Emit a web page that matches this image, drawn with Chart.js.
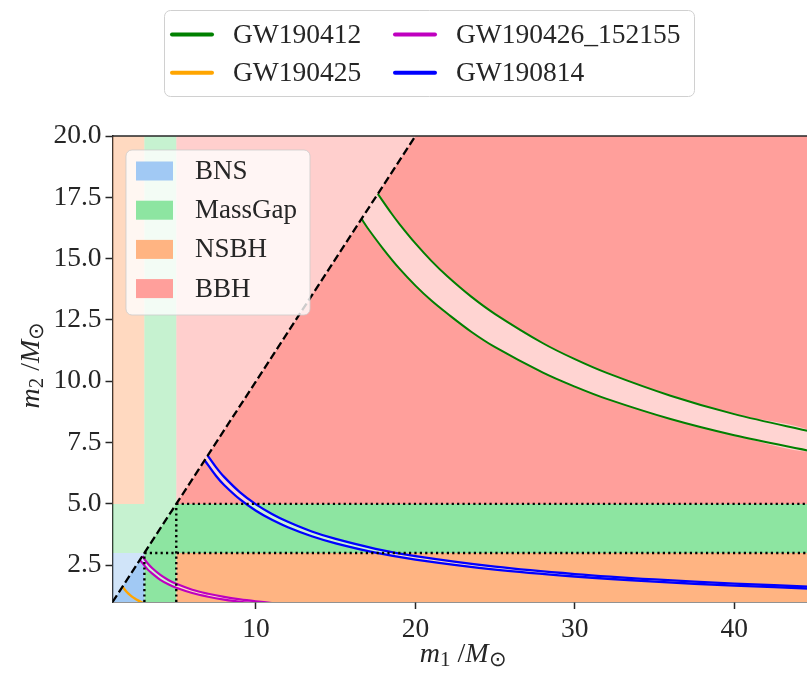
<!DOCTYPE html>
<html>
<head>
<meta charset="utf-8">
<script src="https://cdn.jsdelivr.net/npm/chart.js@4.4.0/dist/chart.umd.min.js"></script>
<style>
html, body { margin: 0; padding: 0; background: #fff; overflow: hidden; }
#wrap { width: 840px; height: 674px; }
</style>
</head>
<body>
<div id="wrap"><canvas id="massChart" width="840" height="674"></canvas></div>
<script>
// axis limits and class boundaries (solar masses)
const xRange = [1, 45];
const yRange = [1, 20];
const massEdges = [3, 5]; // NS maximum, mass-gap maximum
const xTicks = [10, 20, 30, 40];
const yTicks = [2.5, 5, 7.5, 10, 12.5, 15, 17.5, 20];

const categories = ['BNS', 'MassGap', 'NSBH', 'BBH'];
const events = ['GW190412', 'GW190425', 'GW190426_152155', 'GW190814'];

// [m1, m2] read along the edges of each event band
const gw190412Upper = [[17.64, 17.64], [18.5, 16.84], [19, 16.41], [20, 15.62], [21, 14.91], [22, 14.28],
  [23.5, 13.45], [25, 12.74], [28, 11.55], [30, 10.9], [32, 10.34], [36, 9.41], [40, 8.66], [45, 7.92]];
const gw190412Lower = [[16.62, 16.62], [17, 16.25], [18, 15.38], [19, 14.59], [20, 13.9], [21, 13.29],
  [22, 12.76], [23.5, 12.02], [25, 11.39], [28, 10.35], [30, 9.78], [32, 9.28], [36, 8.46], [40, 7.8], [45, 7.13]];
const gw190425Line = [[1.63, 1.63], [1.8, 1.48], [2, 1.34], [2.2, 1.23], [2.4, 1.14], [2.6, 1.064], [2.8, 1.0], [3, 0.945]];
const gw190426Upper = [[2.87, 2.87], [3.2, 2.58], [3.5, 2.375], [4, 2.105], [4.5, 1.9], [5, 1.74], [6, 1.5],
  [7, 1.335], [8, 1.206], [9, 1.107], [10, 1.027], [11, 0.957]];
const gw190426Lower = [[2.72, 2.72], [3.2, 2.33], [3.5, 2.157], [4, 1.903], [4.5, 1.722], [5, 1.58], [6, 1.365],
  [7, 1.215], [8, 1.099], [9, 1.01], [10, 0.937]];
const gw190814Upper = [[6.97, 6.97], [7.5, 6.49], [8, 6.1], [9, 5.47], [10, 4.98], [11, 4.59], [12, 4.27],
  [13.5, 3.875], [15, 3.57], [17.5, 3.17], [20, 2.87], [25, 2.44], [30, 2.14], [35, 1.92], [40, 1.75], [45, 1.62]];
const gw190814Lower = [[6.78, 6.78], [7.5, 6.135], [8, 5.77], [9, 5.18], [10, 4.72], [11, 4.35], [12, 4.05],
  [13.5, 3.68], [15, 3.39], [17.5, 3.01], [20, 2.73], [25, 2.32], [30, 2.04], [35, 1.83], [40, 1.67], [45, 1.54]];

const catColors = ['#a1c9f4', '#8de5a1', '#ffb482', '#ff9f9b'];
const eventColors = ['#008000', '#ffa500', '#bf00bf', '#0000ff'];
const ink = '#262626';
const serif = '"Liberation Serif", "Times New Roman", serif';

function pts(arr) {
  return arr.map(p => ({ x: p[0], y: p[1] }));
}

const [x0, x1] = xRange;
const [y0, y1] = yRange;
const [ns, gap] = massEdges;

// m1 >= m2 side (full colour) and m2 > m1 side (faded)
const regionsBelow = [
  [[x0, y0], [ns, y0], [ns, ns]],
  [[ns, y0], [gap, y0], [gap, ns], [x1, ns], [x1, gap], [gap, gap], [ns, ns]],
  [[gap, y0], [x1, y0], [x1, ns], [gap, ns]],
  [[gap, gap], [x1, gap], [x1, y1], [y1, y1]]
];
const regionsAbove = [
  [[x0, y0], [ns, ns], [x0, ns]],
  [[x0, ns], [ns, ns], [gap, gap], [gap, y1], [ns, y1], [ns, gap], [x0, gap]],
  [[x0, gap], [ns, gap], [ns, y1], [x0, y1]],
  [[gap, gap], [y1, y1], [gap, y1]]
];

const datasets = [];

function shape(poly, color, order, tension) {
  datasets.push({
    data: pts(poly), showLine: true, fill: 'shape', backgroundColor: color,
    borderWidth: 0, pointRadius: 0, order: order, tension: tension || 0
  });
}
function line(arr, color, width, dash, order, tension) {
  datasets.push({
    data: pts(arr), showLine: true, fill: false, borderColor: color,
    borderWidth: width, borderDash: dash || [], pointRadius: 0, order: order,
    tension: tension || 0
  });
}

regionsBelow.forEach((p, i) => shape(p, catColors[i], 20));
regionsAbove.forEach((p, i) => shape(p, catColors[i] + '80', 20));

// event bands: light fill between the two edges, then the edges
const bands = [
  [gw190412Upper, gw190412Lower, eventColors[0], 2],
  [gw190426Upper, gw190426Lower, eventColors[2], 2.2],
  [gw190814Upper, gw190814Lower, eventColors[3], 2.3]
];
bands.forEach(([up, lo, col, w]) => {
  shape(up.concat(lo.slice().reverse()), 'rgba(255,255,255,0.55)', 10, 0.35);
  line(up, col, w, null, 8, 0.35);
  line(lo, col, w, null, 8, 0.35);
});
line(gw190425Line, eventColors[1], 2.4, null, 8, 0.35);

// class boundaries
line([[x0, y0], [y1, y1]], '#000', 2.3, [8, 3.6], 2);
const dots = [2.2, 3.2];
line([[gap, gap], [x1, gap]], '#000', 2.4, dots, 3);
line([[ns, ns], [x1, ns]], '#000', 2.4, dots, 3);
line([[ns, y0], [ns, ns]], '#000', 2.4, dots, 3);
line([[gap, y0], [gap, gap]], '#000', 2.4, dots, 3);

function drawMath(ctx, parts, cx, base, size) {
  const subSize = size * 0.75;
  const fonts = parts.map(p => (p[1] === 'i' ? 'italic ' : '') + (p[2] ? subSize : size) + 'px ' + serif);
  let total = 0;
  const widths = parts.map((p, i) => { ctx.font = fonts[i]; const w = ctx.measureText(p[0]).width; total += w; return w; });
  let x = cx - total / 2;
  ctx.textBaseline = 'alphabetic';
  ctx.textAlign = 'left';
  parts.forEach((p, i) => {
    ctx.font = fonts[i];
    ctx.fillText(p[0], x, base + (p[2] ? size * 0.16 : 0));
    x += widths[i];
  });
}

const overlay = {
  id: 'overlay',
  afterDraw(chart) {
    const ctx = chart.ctx;
    const a = chart.chartArea;
    ctx.save();
    // top spine
    ctx.strokeStyle = ink;
    ctx.lineWidth = 1.5;
    ctx.beginPath();
    ctx.moveTo(a.left, a.top);
    ctx.lineTo(a.right, a.top);
    ctx.stroke();

    // axis titles
    ctx.fillStyle = ink;
    drawMath(ctx, [['m', 'i', false], ['1', 'n', true], [' /', 'n', false], ['M', 'i', false], ['\u2299', 'n', true]],
      (a.left + a.right) / 2, 662, 28);
    ctx.save();
    ctx.translate(39, (a.top + a.bottom) / 2 - 4);
    ctx.rotate(-Math.PI / 2);
    drawMath(ctx, [['m', 'i', false], ['2', 'n', true], [' /', 'n', false], ['M', 'i', false], ['\u2299', 'n', true]],
      0, 0, 28);
    ctx.restore();

    // class legend inside the axes
    ctx.beginPath();
    ctx.roundRect(126, 150, 184, 165, 6);
    ctx.fillStyle = 'rgba(255,255,255,0.8)';
    ctx.fill();
    ctx.strokeStyle = 'rgba(204,204,204,0.8)';
    ctx.lineWidth = 1;
    ctx.stroke();
    ctx.font = '27px ' + serif;
    ctx.textBaseline = 'middle';
    ctx.textAlign = 'left';
    categories.forEach((c, i) => {
      const yc = 171 + i * 39.2;
      ctx.fillStyle = catColors[i];
      ctx.fillRect(136, yc - 9.5, 37, 19);
      ctx.fillStyle = ink;
      ctx.fillText(c, 195, yc + 1);
    });

    // event legend above the axes
    ctx.beginPath();
    ctx.roundRect(164.5, 10.5, 530, 86, 6);
    ctx.fillStyle = '#fff';
    ctx.fill();
    ctx.strokeStyle = '#d0d0d0';
    ctx.lineWidth = 1;
    ctx.stroke();
    ctx.font = '27.5px ' + serif;
    const slots = [[172, 34.6], [172, 72.7], [395, 34.6], [395, 72.7]];
    events.forEach((e, i) => {
      const [sx, sy] = slots[i];
      ctx.strokeStyle = eventColors[i];
      ctx.lineWidth = 4;
      ctx.lineCap = 'round';
      ctx.beginPath();
      ctx.moveTo(sx, sy);
      ctx.lineTo(sx + 40, sy);
      ctx.stroke();
      ctx.fillStyle = ink;
      ctx.fillText(e, sx + 61, sy + 1);
    });
    ctx.restore();
  }
};

const tickFont = { family: serif, size: 27.5 };

new Chart(document.getElementById('massChart'), {
  type: 'scatter',
  data: { datasets: datasets },
  options: {
    responsive: false,
    devicePixelRatio: 1,
    animation: false,
    events: [],
    layout: { padding: { left: 0, right: 26, top: 136, bottom: 0 } },
    plugins: { legend: { display: false }, tooltip: { enabled: false } },
    scales: {
      x: {
        type: 'linear', min: x0, max: x1, z: 1,
        grid: { display: true, drawOnChartArea: false, drawTicks: true, tickLength: 7, tickWidth: 1.5, tickColor: ink },
        border: { display: true, color: ink, width: 1.5 },
        ticks: { font: tickFont, color: ink, padding: 4, maxRotation: 0, autoSkip: false },
        afterBuildTicks: s => { s.ticks = xTicks.map(v => ({ value: v })); },
        afterFit: s => { s.height = 72; }
      },
      y: {
        type: 'linear', min: y0, max: y1, z: 1,
        grid: { display: true, drawOnChartArea: false, drawTicks: true, tickLength: 7, tickWidth: 1.5, tickColor: ink },
        border: { display: true, color: ink, width: 1.5 },
        ticks: { font: tickFont, color: ink, padding: 4, autoSkip: false, callback: v => v.toFixed(1) },
        afterBuildTicks: s => { s.ticks = yTicks.map(v => ({ value: v })); },
        afterFit: s => { s.width = 112.5; }
      }
    }
  },
  plugins: [overlay]
});
</script>
</body>
</html>
